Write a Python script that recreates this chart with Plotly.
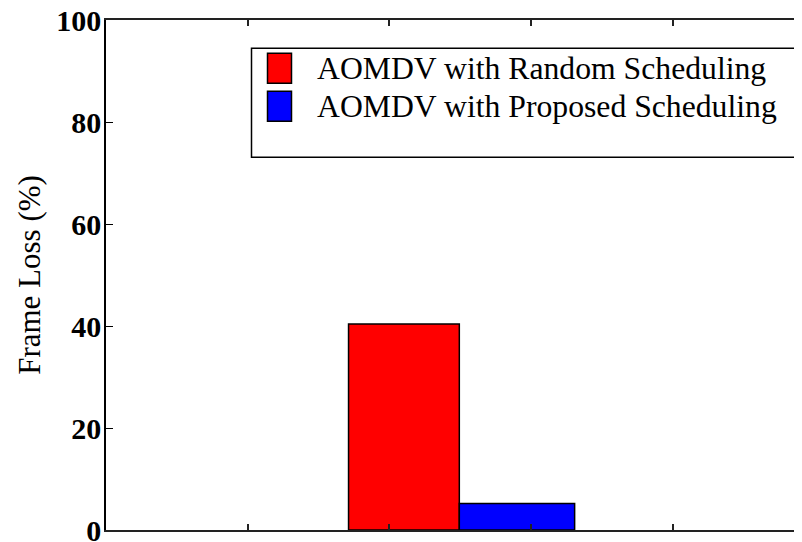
import plotly.graph_objects as go

# ---- data ----
series_names = ["AOMDV with Random Scheduling", "AOMDV with Proposed Scheduling"]
series_values = [40.4, 5.2]
group_position = [2.5]
series_colors = ["#ff0000", "#0000ff"]
y_tick_values = [0, 20, 40, 60, 80, 100]
x_tick_values = [0, 1, 2, 3, 4, 5]

# ---- styling ----
FONT = "Liberation Serif, Times New Roman, serif"
PAGE_OFF = 8  # default body margin of the html page
W, H = 812, 542
ML, MR, MT, MB = 98, 0, 12, 20
bar_offsets = [-0.788, -0.006]
bar_widths = [0.782, 0.814]
TICK_SPACING_PX = 141.67

fig = go.Figure()
for name, val, col, off, w in zip(series_names, series_values, series_colors, bar_offsets, bar_widths):
    fig.add_trace(go.Bar(
        x=group_position, y=[val], name=name, offset=off, width=w,
        marker=dict(color=col, line=dict(color="black", width=1.5)),
        showlegend=False,
    ))

# legend (box + swatches + labels), positions given in page pixels
pw = W - ML - MR
ph = H - MT - MB
def px(x):
    return (x - PAGE_OFF - ML) / pw
def py(y):
    return (PAGE_OFF + MT + ph - y) / ph

fig.add_shape(type="rect", xref="paper", yref="paper",
              x0=px(251.5), x1=px(830), y0=py(157.3), y1=py(48.3),
              line=dict(color="black", width=1.5), fillcolor="white", layer="above")
row_centers = [68.3, 106.3]
for name, col, yc in zip(series_names, series_colors, row_centers):
    fig.add_shape(type="rect", xref="paper", yref="paper",
                  x0=px(267.5), x1=px(291.5), y0=py(yc + 15), y1=py(yc - 15),
                  line=dict(color="black", width=1.5), fillcolor=col, layer="above")
    fig.add_annotation(xref="paper", yref="paper", x=px(315), y=py(yc),
                       xanchor="left", yanchor="middle", showarrow=False,
                       text=name, font=dict(family=FONT, size=31.7, color="black"))

fig.update_layout(
    width=W, height=H,
    margin=dict(l=ML, r=MR, t=MT, b=MB, autoexpand=False),
    paper_bgcolor="white", plot_bgcolor="white",
    barmode="overlay",
    showlegend=False,
    font=dict(family=FONT, color="black"),
)
fig.update_xaxes(
    range=[0, pw / TICK_SPACING_PX], tickvals=x_tick_values, showticklabels=False,
    ticks="inside", ticklen=6, tickcolor="#222", tickwidth=1.5,
    showline=True, linecolor="#222", linewidth=1.5, mirror="allticks",
    showgrid=False, zeroline=False,
)
fig.update_yaxes(
    range=[0, 100], tickvals=y_tick_values,
    ticks="inside", ticklen=7, tickcolor="black", tickwidth=1,
    showline=True, linecolor="black", linewidth=1.5, mirror=False,
    showgrid=False, zeroline=False,
    tickfont=dict(family=FONT, size=30, color="black", weight="bold"),
    ticklabelstandoff=-3, ticklabeloverflow="allow",
    title=dict(text="Frame Loss (%)", font=dict(family=FONT, size=31, color="black"), standoff=6),
)

fig.write_html("out.html")
